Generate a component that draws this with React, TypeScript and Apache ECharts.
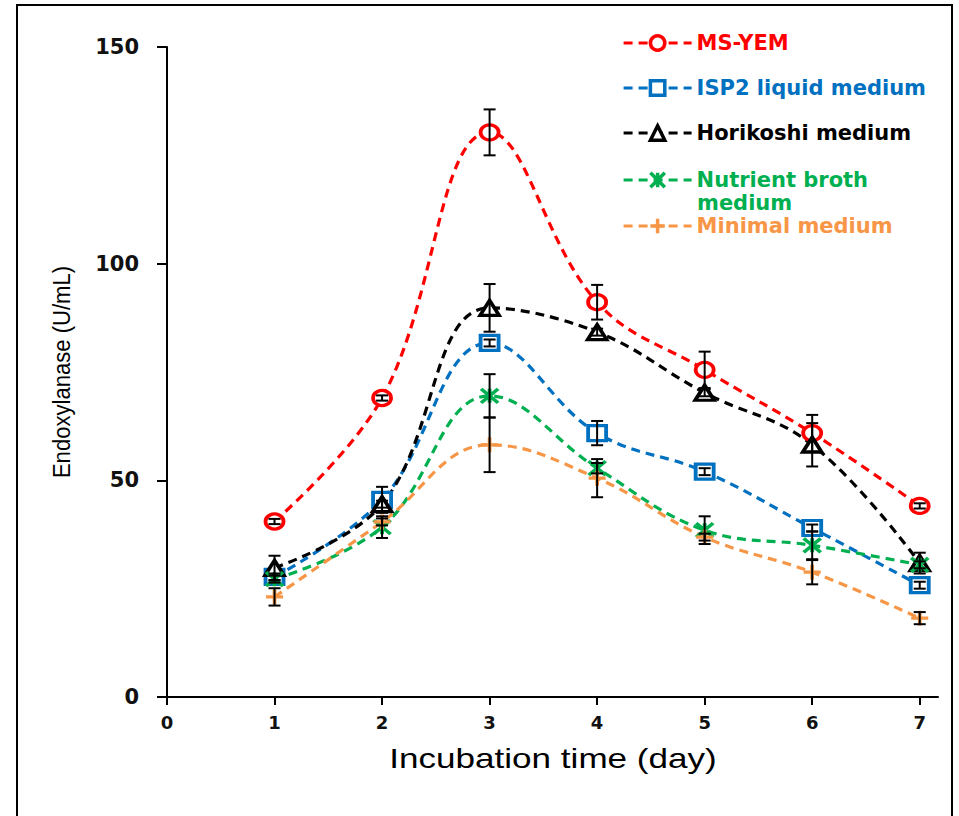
import React, { useEffect, useRef } from "react";
import * as echarts from "echarts";

const days = [1, 2, 3, 4, 5, 6, 7];
const xTicks = [0, 1, 2, 3, 4, 5, 6, 7];

const msYem = [40.5, 69.0, 130.3, 91.1, 75.5, 60.9, 44.1];
const msYemErr = [0.6, 0.6, 5.3, 4.0, 4.2, 4.2, 0.6];
const isp2 = [27.7, 45.5, 81.7, 60.9, 52.0, 39.0, 25.8];
const isp2Err = [0.8, 3.0, 0.8, 2.8, 0.8, 0.8, 0.8];
const horikoshi = [29.8, 44.5, 89.8, 84.2, 70.2, 58.2, 30.9];
const horikoshiErr = [2.8, 0.8, 5.5, 0.8, 0.8, 5.0, 2.4];
const nutrient = [27.2, 39.2, 69.5, 52.8, 38.5, 35.0, 30.5];
const nutrientErr = [0.8, 2.5, 5.0, 1.2, 3.2, 3.2, 0.8];
const minimal = [23.1, 40.4, 58.2, 50.5, 36.9, 28.8, 18.2];
const minimalErr = [2.0, 0.8, 6.3, 4.4, 0.8, 2.8, 1.4];

const seriesNames = [
  "MS-YEM",
  "ISP2 liquid medium",
  "Horikoshi medium",
  "Nutrient broth medium",
  "Minimal medium",
];
const seriesColors = ["#ff0000", "#0070c0", "#000000", "#00b050", "#f79646"];
const seriesValues = [msYem, isp2, horikoshi, nutrient, minimal];
const seriesErrors = [msYemErr, isp2Err, horikoshiErr, nutrientErr, minimalErr];
const seriesSymbols = [
  "circle",
  "rect",
  "triangle",
  "path://M0,0L10,10M10,0L0,10M5,0L5,10",
  "path://M5,0L5,10M0,5L10,5",
];
const symbolSizes = [
  [18, 15],
  [18, 15],
  [19, 15],
  [17, 14],
  [17, 15],
];
const legendCenters = [43, 88, 133, 180, 226];

export default function App() {
  const ref = useRef<HTMLDivElement>(null);

  useEffect(() => {
    if (!ref.current) return;
    const chart = echarts.init(ref.current, null, { renderer: "svg" });

    const lineSeries = seriesNames.map((name, i) => {
      const hollow = i < 3;
      return {
        name,
        type: "line",
        smooth: 0.4,
        data: days.map((d, k) => [d, seriesValues[i][k]]),
        symbol: seriesSymbols[i],
        symbolSize: symbolSizes[i],
        symbolKeepAspect: false,
        z: 2,
        lineStyle: { color: seriesColors[i], width: 3.2, type: [9, 6] },
        itemStyle: {
          color: hollow ? "#ffffff" : "rgba(0,0,0,0)",
          borderColor: seriesColors[i],
          borderWidth: 3.5,
        },
        emphasis: { disabled: true },
        silent: true,
      };
    });

    const errSeries = seriesNames.map((name, i) => ({
      name: name + " error",
      type: "custom",
      z: 5,
      silent: true,
      data: days.map((d, k) => [d, seriesValues[i][k], seriesErrors[i][k]]),
      encode: { x: 0, y: 1 },
      renderItem: (params: any, api: any) => {
        const x = api.value(0);
        const y = api.value(1);
        const e = api.value(2);
        const top = api.coord([x, y + e]);
        const bot = api.coord([x, y - e]);
        const hw = 6;
        const st = { stroke: "#000000", lineWidth: 2 };
        return {
          type: "group",
          children: [
            { type: "line", shape: { x1: top[0], y1: top[1], x2: bot[0], y2: bot[1] }, style: st },
            { type: "line", shape: { x1: top[0] - hw, y1: top[1], x2: top[0] + hw, y2: top[1] }, style: st },
            { type: "line", shape: { x1: bot[0] - hw, y1: bot[1], x2: bot[0] + hw, y2: bot[1] }, style: st },
          ],
        };
      },
    }));

    const legends = seriesNames.map((name, i) => ({
      data: [{ name, textStyle: { color: seriesColors[i] } }],
      left: 622,
      top: legendCenters[i] - 11,
      orient: "vertical",
      itemWidth: 68,
      itemHeight: 18,
      itemGap: 0,
      padding: 0,
      selectedMode: false,
      formatter: (n: string) => (n === "Nutrient broth medium" ? "Nutrient broth" : n),
      lineStyle: { width: 3.2, type: [9, 6] },
      itemStyle: { borderWidth: 3.5 },
      textStyle: {
        fontFamily: "DejaVu Sans",
        fontWeight: "bold",
        fontSize: 21,
        lineHeight: 22,
        padding: [0, 0, 0, 0],
      },
    }));

    const option: any = {
      animation: false,
      backgroundColor: "#ffffff",
      grid: { left: 167, top: 47, right: 21, bottom: 119 },
      xAxis: {
        type: "value",
        min: 0,
        max: 7.17,
        axisLine: { lineStyle: { color: "#000", width: 2 } },
        axisTick: { show: true, length: 8, lineStyle: { color: "#000", width: 2 }, customValues: xTicks },
        axisLabel: {
          customValues: xTicks,
          margin: 16,
          color: "#111",
          fontFamily: "DejaVu Sans",
          fontWeight: "bold",
          fontSize: 18,
        },
        splitLine: { show: false },
      },
      yAxis: {
        type: "value",
        min: 0,
        max: 150,
        interval: 50,
        axisLine: { show: true, lineStyle: { color: "#000", width: 2 } },
        axisTick: { show: true, length: 10, lineStyle: { color: "#000", width: 2 } },
        axisLabel: {
          margin: 28,
          color: "#111",
          fontFamily: "DejaVu Sans",
          fontWeight: "bold",
          fontSize: 21,
        },
        splitLine: { show: false },
      },
      legend: legends,
      graphic: [
        {
          type: "rect",
          shape: { x: 17, y: 5, width: 935, height: 840 },
          style: { fill: "none", stroke: "#000", lineWidth: 2 },
          silent: true,
          z: 0,
        },
        {
          type: "text",
          x: 697,
          y: 203,
          style: {
            text: "medium",
            fill: seriesColors[3],
            font: "bold 21px 'DejaVu Sans'",
            textVerticalAlign: "middle",
          },
        },
        {
          type: "text",
          x: 553,
          y: 759,
          scaleX: 1.3,
          style: {
            text: "Incubation time (day)",
            fill: "#000",
            font: "27px 'Liberation Sans'",
            textAlign: "center",
            textVerticalAlign: "middle",
          },
        },
        {
          type: "text",
          x: 62,
          y: 372,
          rotation: Math.PI / 2,
          scaleX: 0.96,
          style: {
            text: "Endoxylanase (U/mL)",
            fill: "#000",
            font: "23px 'Liberation Sans'",
            textAlign: "center",
            textVerticalAlign: "middle",
          },
        },
      ],
      series: [...lineSeries, ...errSeries],
    };

    chart.setOption(option);
    return () => chart.dispose();
  }, []);

  return (
    <div
      ref={ref}
      style={{ position: "absolute", left: 0, top: 0, width: 959, height: 816 }}
    />
  );
}
